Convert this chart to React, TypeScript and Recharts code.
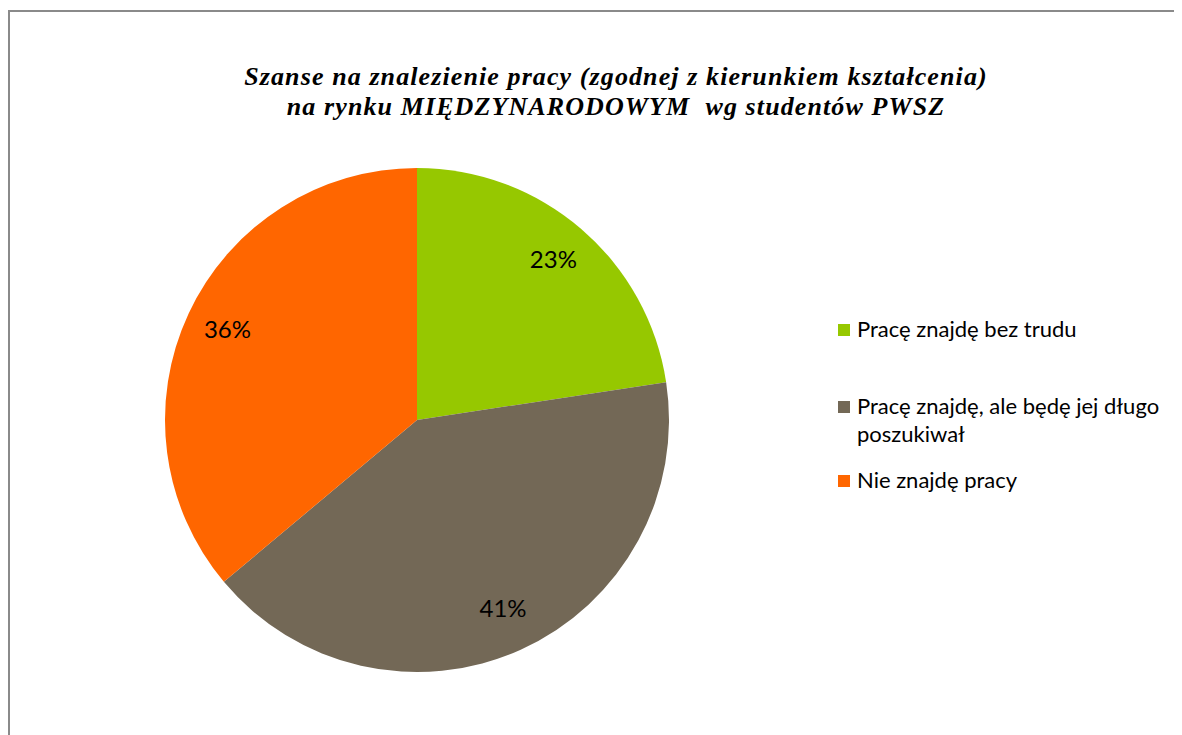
import React from 'react';
import { PieChart, Pie, Cell, Legend } from 'recharts';

const categories = [
  'Pracę znajdę bez trudu',
  'Pracę znajdę, ale będę jej długo poszukiwał',
  'Nie znajdę pracy',
];
const shares = [22.6, 41.3, 36.1];
const colors = ['#96c800', '#736856', '#ff6600'];
const titleLines = [
  'Szanse na znalezienie pracy (zgodnej z kierunkiem kształcenia)',
  'na rynku MIĘDZYNARODOWYM  wg studentów PWSZ',
];

const data = categories.map((name, i) => ({ name, value: shares[i] }));

const RADIAN = Math.PI / 180;

const renderLabel = (props: any) => {
  const { cx, cy, midAngle, outerRadius, percent } = props;
  const r = outerRadius * 0.83;
  const x = cx + r * Math.cos(-midAngle * RADIAN);
  const y = cy + r * Math.sin(-midAngle * RADIAN) - 3;
  return (
    <text
      x={x}
      y={y}
      fill="#000"
      textAnchor="middle"
      dominantBaseline="central"
      fontFamily="Lato, sans-serif"
      fontSize={24}
    >
      {`${Math.round(percent * 100)}%`}
    </text>
  );
};

// gaps between legend rows, as in the original
const legendGaps = [0, 49, 18];

const renderLegend = (props: any) => {
  const items = [...props.payload].sort(
    (a: any, b: any) => categories.indexOf(a.value) - categories.indexOf(b.value)
  );
  return (
    <div style={{ fontFamily: 'Lato, sans-serif', fontSize: 22, color: '#000' }}>
      {items.map((entry: any, i: number) => (
        <div
          key={entry.value}
          style={{ display: 'flex', alignItems: 'flex-start', marginTop: legendGaps[i] }}
        >
          <div
            style={{
              width: 12,
              height: 12,
              background: entry.color,
              marginTop: 9,
              marginRight: 7,
              flex: 'none',
            }}
          />
          <div style={{ width: 330, lineHeight: '28px' }}>{entry.value}</div>
        </div>
      ))}
    </div>
  );
};

export default function App() {
  return (
    <div style={{ paddingTop: 2 }}>
      <div
        style={{
          position: 'relative',
          width: 1180,
          height: 740,
          borderLeft: '2px solid #8a8a8a',
          borderTop: '2px solid #8a8a8a',
          background: '#fff',
        }}
      >
        <div
          style={{
            position: 'absolute',
            left: 0,
            top: 50,
            width: 1212,
            textAlign: 'center',
            fontFamily: '"Liberation Serif", serif',
            fontStyle: 'italic',
            fontWeight: 'bold',
            fontSize: 26,
            letterSpacing: 1.1,
            lineHeight: '30px',
            color: '#000',
          }}
        >
          {titleLines.map((t) => (
            <div key={t} style={{ whiteSpace: 'pre' }}>{t}</div>
          ))}
        </div>
        <PieChart width={1180} height={740} style={{ position: 'absolute', left: 0, top: 0 }}>
          <Pie
            data={data}
            dataKey="value"
            nameKey="name"
            cx={402}
            cy={403}
            outerRadius={252}
            startAngle={90}
            endAngle={-270}
            stroke="none"
            label={renderLabel}
            labelLine={false}
            isAnimationActive={false}
          >
            {data.map((d, i) => (
              <Cell key={d.name} fill={colors[i]} />
            ))}
          </Pie>
          <Legend
            layout="vertical"
            align="right"
            verticalAlign="top"
            content={renderLegend}
            wrapperStyle={{ left: 828, top: 303, width: 350 }}
          />
        </PieChart>
      </div>
    </div>
  );
}
